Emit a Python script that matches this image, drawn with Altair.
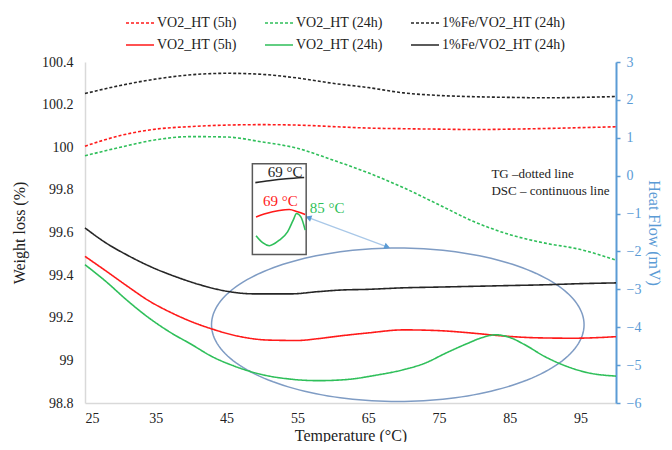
import altair as alt
import pandas as pd
import numpy as np

FONT = "Liberation Serif, Times New Roman, DejaVu Serif, serif"

# ---------------- data ----------------
KEYS = ["tg5", "tg24", "tgfe", "dsc5", "dsc24", "dscfe"]
LABELS = ["VO2_HT (5h)", "VO2_HT (24h)", "1%Fe/VO2_HT (24h)",
          "VO2_HT (5h)", "VO2_HT (24h)", "1%Fe/VO2_HT (24h)"]
COLORS = ["#ff1a1a", "#2fbf5a", "#262626", "#ff1a1a", "#2fbf5a", "#262626"]
DASHES = [[3, 2], [3, 2], [3, 2], [1, 0], [1, 0], [1, 0]]

X_TICKS = [25, 35, 45, 55, 65, 75, 85, 95]
LEFT_TICKS = [98.8, 99.0, 99.2, 99.4, 99.6, 99.8, 100.0, 100.2, 100.4]
RIGHT_TICKS = [-6, -5, -4, -3, -2, -1, 0, 1, 2, 3]

# TG (weight loss, %), dotted lines
X_TG = [25, 30, 35, 40, 45, 50, 55, 60, 65, 70, 75, 80, 85, 90, 95, 100]
TG_5H = [100.005, 100.055, 100.085, 100.097, 100.104, 100.106, 100.104, 100.097,
         100.09, 100.087, 100.085, 100.083, 100.085, 100.088, 100.092, 100.096]
TG_24H = [99.96, 100.0, 100.035, 100.05, 100.048, 100.025, 99.995, 99.94,
          99.88, 99.81, 99.73, 99.65, 99.59, 99.55, 99.52, 99.47]
TG_FE = [100.252, 100.29, 100.32, 100.34, 100.347, 100.342, 100.325, 100.30,
         100.28, 100.255, 100.243, 100.237, 100.234, 100.232, 100.234, 100.238]

# DSC (heat flow, mV), continuous lines
X_DSC_5H = [25, 28, 31, 34, 37, 40, 43, 47, 51, 55, 58, 61, 65, 70, 75, 80, 84, 89, 94, 100]
DSC_5H = [-2.13, -2.52, -2.92, -3.3, -3.6, -3.85, -4.05, -4.25, -4.34, -4.35, -4.3,
          -4.23, -4.15, -4.07, -4.09, -4.16, -4.23, -4.28, -4.29, -4.25]
X_DSC_24H = [25, 28, 31, 34, 37, 40, 43, 46, 50, 54, 58, 62, 66, 70, 73, 76, 79,
             81, 83, 85, 87, 90, 93, 96, 100]
DSC_24H = [-2.35, -2.8, -3.3, -3.75, -4.13, -4.45, -4.78, -5.02, -5.25, -5.37, -5.41,
           -5.38, -5.27, -5.12, -4.95, -4.68, -4.43, -4.28, -4.2, -4.27, -4.45,
           -4.78, -5.03, -5.2, -5.29]
X_DSC_FE = [25, 28, 31, 34, 38, 42, 45, 49, 54, 58, 61, 65, 70, 75, 80, 85, 90, 95, 100]
DSC_FE = [-1.38, -1.78, -2.1, -2.38, -2.68, -2.92, -3.05, -3.12, -3.12, -3.06, -3.02,
          -3.0, -2.96, -2.94, -2.92, -2.9, -2.88, -2.85, -2.83]

# inset sketch (drawn in weight-loss coordinates)
INSET_BOX = dict(x=48.64, x2=56.24, v=99.923, v2=99.497)
INSET_BLACK_X = [49.06, 51.0, 53.4, 55.96]
INSET_BLACK_V = [99.834, 99.843, 99.852, 99.858]
INSET_RED_X = [49.16, 50.57, 52.44, 53.85, 55.01, 56.10]
INSET_RED_V = [99.673, 99.689, 99.703, 99.708, 99.697, 99.684]
INSET_GREEN_X = [49.16, 50.09, 51.03, 52.44, 53.61, 54.41, 54.88, 55.49, 56.10]
INSET_GREEN_V = [99.585, 99.552, 99.538, 99.564, 99.603, 99.658, 99.689, 99.673, 99.611]

LABEL_BLACK = dict(x=53.28, v=99.885, t="69 °C")
LABEL_RED = dict(x=52.58, v=99.750, t="69 °C")
LABEL_GREEN = dict(x=59.19, v=99.717, t="85 °C")
NOTES_X = 82.4
NOTES_V = [99.876, 99.797]
NOTES_T = ["TG –dotted line", "DSC – continuous line"]

ARROW_X = [56.56, 67.68]
ARROW_V = [99.670, 99.533]

ELLIPSE_C = (69.18, 99.167)
ELLIPSE_R = (26.31, 0.360)

# ---------------- frames ----------------
tg_df = pd.concat([
    pd.DataFrame({"x": X_TG, "v": TG_5H, "series": "tg5"}),
    pd.DataFrame({"x": X_TG, "v": TG_24H, "series": "tg24"}),
    pd.DataFrame({"x": X_TG, "v": TG_FE, "series": "tgfe"}),
])
dsc_df = pd.concat([
    pd.DataFrame({"x": X_DSC_5H, "v": DSC_5H, "series": "dsc5"}),
    pd.DataFrame({"x": X_DSC_24H, "v": DSC_24H, "series": "dsc24"}),
    pd.DataFrame({"x": X_DSC_FE, "v": DSC_FE, "series": "dscfe"}),
])

label_expr = " : ".join(
    [f"datum.label == '{k}' ? '{l}'" for k, l in zip(KEYS, LABELS)]) + " : datum.label"

LEG = alt.Legend(orient="none", legendX=40, legendY=-54, columns=3, direction="horizontal",
                 title=None, symbolType="stroke", symbolSize=784, symbolStrokeWidth=1.6,
                 labelFont=FONT, labelFontSize=14, labelColor="#222222", labelExpr=label_expr,
                 columnPadding=24, rowPadding=0, labelOffset=2)

color_enc = alt.Color("series:N", scale=alt.Scale(domain=KEYS, range=COLORS), legend=LEG)
dash_enc = alt.StrokeDash("series:N", scale=alt.Scale(domain=KEYS, range=DASHES), legend=LEG)

X_ENC = alt.X("x:Q", scale=alt.Scale(domain=[25, 100], nice=False, zero=False),
              axis=alt.Axis(values=X_TICKS, title="Temperature (°C)", grid=False, ticks=False,
                            domainColor="#d9d9d9", domainWidth=1.5, labelPadding=8,
                            titlePadding=2, labelFontSize=14, titleFontSize=16,
                            labelColor="#222222", titleColor="#222222"))

Y_LEFT = alt.Y("v:Q", scale=alt.Scale(domain=[98.8, 100.4], nice=False, zero=False),
               axis=alt.Axis(values=LEFT_TICKS, title="Weight loss (%)", grid=False, ticks=False,
                             format="~g", domainColor="#d9d9d9", domainWidth=1.5,
                             labelPadding=12, titlePadding=14, labelFontSize=14,
                             titleFontSize=16, labelColor="#222222", titleColor="#222222"))

Y_RIGHT = alt.Y("v:Q", scale=alt.Scale(domain=[-6, 3], nice=False, zero=False),
                axis=alt.Axis(orient="right", values=RIGHT_TICKS, title="Heat Flow (mV)",
                              grid=False, ticks=True, tickSize=4, tickColor="#5b9bd5",
                              tickWidth=1.5, domainColor="#5b9bd5", domainWidth=2,
                              labelPadding=6, titlePadding=5, labelFontSize=14,
                              titleFontSize=16, labelColor="#5b9bd5", titleColor="#5b9bd5"))

tg = alt.Chart(tg_df).mark_line(strokeWidth=1.6, interpolate="monotone").encode(
    x=X_ENC, y=Y_LEFT, color=color_enc, strokeDash=dash_enc)

# ellipse
th = np.linspace(0, 2 * np.pi, 181)
ell_df = pd.DataFrame({"x": ELLIPSE_C[0] + ELLIPSE_R[0] * np.cos(th),
                       "v": ELLIPSE_C[1] + ELLIPSE_R[1] * np.sin(th),
                       "i": np.arange(len(th))})
ellipse = alt.Chart(ell_df).mark_line(color="#7f9cc4", strokeWidth=1.5).encode(
    x="x:Q", y="v:Q", order="i:Q")

# arrow
arr_df = pd.DataFrame({"x": ARROW_X, "v": ARROW_V})
arrow_line = alt.Chart(arr_df).mark_line(color="#a9c8e8", strokeWidth=1.3).encode(x="x:Q", y="v:Q")
head_r = alt.Chart(arr_df.iloc[[1]]).mark_point(shape="triangle-right", filled=True, size=45,
                                                 color="#5b9bd5", opacity=1, angle=20).encode(
    x="x:Q", y="v:Q")
head_l = alt.Chart(arr_df.iloc[[0]]).mark_point(shape="triangle-right", filled=True, size=45,
                                                 color="#5b9bd5", opacity=1, angle=200).encode(
    x="x:Q", y="v:Q")

# inset
box = alt.Chart(pd.DataFrame([INSET_BOX])).mark_rect(fill="white", stroke="#595959",
                                                     strokeWidth=1.5).encode(
    x="x:Q", x2="x2:Q", y="v:Q", y2="v2:Q")
ib = alt.Chart(pd.DataFrame({"x": INSET_BLACK_X, "v": INSET_BLACK_V})).mark_line(
    color="#262626", strokeWidth=1.6, interpolate="monotone").encode(x="x:Q", y="v:Q")
ir = alt.Chart(pd.DataFrame({"x": INSET_RED_X, "v": INSET_RED_V})).mark_line(
    color="#ff1a1a", strokeWidth=1.6, interpolate="monotone").encode(x="x:Q", y="v:Q")
ig = alt.Chart(pd.DataFrame({"x": INSET_GREEN_X, "v": INSET_GREEN_V})).mark_line(
    color="#2fbf5a", strokeWidth=1.6, interpolate="monotone").encode(x="x:Q", y="v:Q")


def label(d, color, size=15):
    return alt.Chart(pd.DataFrame([d])).mark_text(font=FONT, fontSize=size, color=color).encode(
        x="x:Q", y="v:Q", text="t:N")


lb = label(LABEL_BLACK, "#262626")
lr = label(LABEL_RED, "#ff1a1a")
lg = label(LABEL_GREEN, "#2fbf5a")
notes = alt.Chart(pd.DataFrame({"x": [NOTES_X] * 2, "v": NOTES_V, "t": NOTES_T})).mark_text(
    font=FONT, fontSize=13, color="#222222", align="left").encode(x="x:Q", y="v:Q", text="t:N")

left = alt.layer(tg, ellipse, arrow_line, head_r, head_l, box, ib, ir, ig, lb, lr, lg, notes)

dsc = alt.Chart(dsc_df).mark_line(strokeWidth=1.6, interpolate="monotone").encode(
    x=X_ENC, y=Y_RIGHT, color=color_enc, strokeDash=dash_enc)

chart = alt.layer(left, dsc).resolve_scale(y="independent").properties(
    width=531, height=341, autosize="none",
    padding={"left": 77, "top": 54, "right": 48, "bottom": 39},
).configure_axis(labelFont=FONT, titleFont=FONT, titleFontWeight="normal").configure_view(
    stroke=None).configure_legend(labelFont=FONT)

chart.save("out.html", embed_options={"renderer": "svg", "actions": False})
